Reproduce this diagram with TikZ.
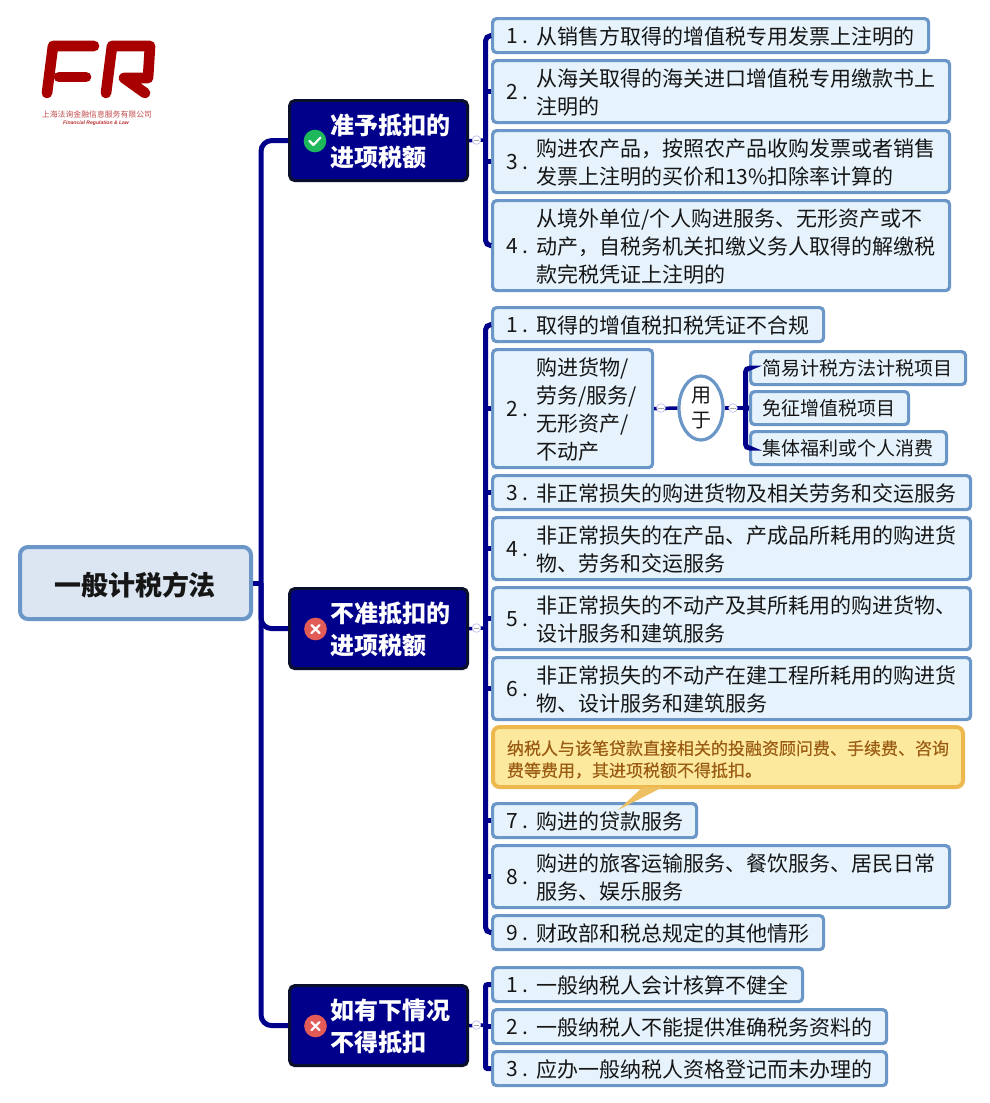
\documentclass[tikz,border=0pt]{standalone}
\usepackage{fontspec}
\setmainfont{Noto Sans CJK SC}
\newfontfamily\latinlogo{Liberation Sans}
\newfontfamily\notefont[FakeBold=0.35]{Noto Sans CJK SC}
\usetikzlibrary{shapes.geometric}
\definecolor{navy}{HTML}{00008B}
\definecolor{navyedge}{HTML}{0A0F2E}
\definecolor{leafedge}{HTML}{6A96C8}
\definecolor{leaffill}{HTML}{E6F3FC}
\definecolor{rootfill}{HTML}{DCE6F2}
\definecolor{notefill}{HTML}{FCE99E}
\definecolor{noteedge}{HTML}{EDB94F}
\definecolor{notetext}{HTML}{9A5B12}
\definecolor{logored}{HTML}{A80000}
\definecolor{okgreen}{HTML}{1DB85C}
\definecolor{nored}{HTML}{E25B57}
\definecolor{inktext}{HTML}{161616}
\tikzset{
  leafbox/.style={draw=leafedge,fill=leaffill,line width=2.4pt,rounded corners=3pt,inner sep=0pt,anchor=north west,text=inktext,
    font=\fontsize{15.75pt}{21pt}\selectfont},
  subbox/.style={leafbox,font=\fontsize{14.25pt}{21pt}\selectfont},
  mainbox/.style={draw=navyedge,fill=navy,line width=2.4pt,rounded corners=4pt,inner sep=0pt,anchor=north west,text=white,
    font=\fontsize{18pt}{24pt}\selectfont\bfseries},
  rootbox/.style={draw=leafedge,fill=rootfill,line width=3pt,rounded corners=6pt,inner sep=0pt,anchor=north west,text=inktext,
    font=\fontsize{20.25pt}{24pt}\selectfont\bfseries},
  notebox/.style={draw=noteedge,fill=notefill,line width=3pt,rounded corners=5pt,inner sep=0pt,anchor=north west,text=notetext,
    font=\notefont\fontsize{12.75pt}{16.5pt}\selectfont},
  oval/.style={ellipse,draw=leafedge,fill=white,line width=2.4pt,inner sep=0pt,minimum width=33pt,minimum height=48pt,text=inktext,
    align=center,font=\fontsize{15pt}{18.75pt}\selectfont},
  conn/.style={draw=navy,line width=3.75pt},
  stub/.style={draw=navy,line width=2.6pt},
  collapser/.style={circle,draw=black!25!blue!25,fill=white,line width=.5pt,minimum size=6.5pt,inner sep=0pt,
    path picture={\draw[black!35,line width=.5pt] ([xshift=1.2pt]path picture bounding box.west) -- ([xshift=-1.2pt]path picture bounding box.east);}},
  icon/.style={circle,minimum size=17pt,inner sep=0pt},
  okicon/.style={icon,fill=okgreen},
  noicon/.style={icon,fill=nored},
  glyph/.style={draw=white,line width=1.6pt,line cap=round,line join=round},
  logostroke/.style={draw=logored,line width=8pt,line cap=round,line join=round},
}
\newcommand\txtlines[2]{\raisebox{-#1pt}[0pt][0pt]{\begin{tabular}[c]{@{}l@{}}#2\end{tabular}}}
% name, style, x1,y1,x2,y2 (outer edges in px), half line width, left offset in px, content
\newcommand\pxbox[9]{%
  \pgfmathsetlengthmacro\boxw{(#5-#3-2*#7)*0.75pt}%
  \pgfmathsetlengthmacro\boxh{(#6-#4-2*#7)*0.75pt}%
  \pgfmathsetlengthmacro\boxo{(#8-#7)*0.75pt}%
  \node[#2,minimum width=\boxw,minimum height=\boxh] (#1) at (#3,#4)
    {\hbox to \boxw{\hspace*{\boxo}#9\hfil}};}
\newcommand\leaf[7]{\pxbox{#1}{leafbox}{#2}{#3}{#4}{#5}{1.5}{15}{\raisebox{-6.1pt}[0pt][0pt]{\makebox[22.5pt][l]{#6}}\txtlines{6.1}{#7}}}
\newcommand\subleaf[6]{\pxbox{#1}{subbox}{#2}{#3}{#4}{#5}{1.5}{13}{\txtlines{4.8}{#6}}}
\begin{document}
\begin{tikzpicture}[x=0.75pt,y=-0.75pt]
\useasboundingbox (0,0) rectangle (989,1103);
\fill[white] (0,0) rectangle (989,1103);

% logo
\draw[logostroke] (94,46) -- (53,46) -- (47,93);
\draw[logostroke] (59,77) -- (86,77);
\draw[logostroke] (106,93) -- (112,46) -- (150,46) -- (148,78) -- (124,78) -- (145,93);
\node[text=logored!70,font=\fontsize{5.9pt}{7pt}\selectfont,inner sep=0pt] (logotext) at (97,114) {上海法询金融信息服务有限公司};
\node[text=logored!80,font=\fontsize{3.8pt}{5pt}\selectfont\latinlogo\itshape\bfseries,inner sep=0pt] (logosub) at (96,123.5) {Financial Regulation \& Law};

% nodes
\pxbox{root}{rootbox}{18}{545}{253}{621}{2}{36}{\txtlines{9.4}{一般计税方法}}
\pxbox{mainA}{mainbox}{288}{99}{469}{182}{1.5}{42}{\txtlines{6.9}{准予抵扣的\\进项税额}}
\pxbox{mainB}{mainbox}{288}{587}{469}{670}{1.5}{42}{\txtlines{6.9}{不准抵扣的\\进项税额}}
\pxbox{mainC}{mainbox}{288}{984}{469}{1067}{1.5}{42}{\txtlines{6.9}{如有下情况\\不得抵扣}}

\leaf{aone}{491}{17}{930}{54}{1 .}{从销售方取得的增值税专用发票上注明的}
\leaf{atwo}{491}{59}{951}{124}{2 .}{从海关取得的海关进口增值税专用缴款书上\\注明的}
\leaf{athree}{491}{129}{951}{194}{3 .}{购进农产品，按照农产品收购发票或者销售\\发票上注明的买价和13\%扣除率计算的}
\leaf{afour}{491}{199}{951}{292}{4 .}{从境外单位/个人购进服务、无形资产或不\\动产，自税务机关扣缴义务人取得的解缴税\\款完税凭证上注明的}

\leaf{bone}{491}{306}{825}{343}{1 .}{取得的增值税扣税凭证不合规}
\leaf{btwo}{491}{348}{654}{469}{2 .}{购进货物/\\劳务/服务/\\无形资产/\\不动产}
\leaf{bthree}{491}{474}{972}{511}{3 .}{非正常损失的购进货物及相关劳务和交运服务}
\leaf{bfour}{491}{516}{972}{581}{4 .}{非正常损失的在产品、产成品所耗用的购进货\\物、劳务和交运服务}
\leaf{bfive}{491}{586}{972}{651}{5 .}{非正常损失的不动产及其所耗用的购进货物、\\设计服务和建筑服务}
\leaf{bsix}{491}{656}{972}{721}{6 .}{非正常损失的不动产在建工程所耗用的购进货\\物、设计服务和建筑服务}
\leaf{bseven}{491}{802}{698}{839}{7 .}{购进的贷款服务}
\leaf{beight}{491}{844}{951}{909}{8 .}{购进的旅客运输服务、餐饮服务、居民日常\\服务、娱乐服务}
\leaf{bnine}{491}{914}{825}{951}{9 .}{财政部和税总规定的其他情形}

\leaf{cone}{491}{966}{804}{1003}{1 .}{一般纳税人会计核算不健全}
\leaf{ctwo}{491}{1008}{888}{1045}{2 .}{一般纳税人不能提供准确税务资料的}
\leaf{cthree}{491}{1050}{888}{1087}{3 .}{应办一般纳税人资格登记而未办理的}

\node[oval] (yong) at (701,408) {用\\于};
\subleaf{sone}{749}{350}{967}{386}{简易计税方法计税项目}
\subleaf{stwo}{749}{390}{910}{426}{免征增值税项目}
\subleaf{sthree}{749}{430}{948}{466}{集体福利或个人消费}

% note and its tail
\pxbox{note}{notebox}{491}{725}{965}{789}{2}{16}{\txtlines{6.25}{纳税人与该笔贷款直接相关的投融资顾问费、手续费、咨询\\费等费用，其进项税额不得抵扣。}}
\fill[noteedge!90!white] (643,787) -- (663,787) -- (618,810) -- cycle;

% spine junctions
\coordinate (hub) at (261,583);
\coordinate (hubA) at (485.5,140);
\coordinate (hubB) at (485.5,628);
\coordinate (hubC) at (485.5,1025);
\coordinate (hubS) at (745.5,408);

% root connectors
\draw[conn] (root.east) -- (hub);
\draw[conn,rounded corners=8pt] (mainA.west) -| (hub);
\draw[conn,rounded corners=8pt] (mainC.west) -| (hub);
\draw[conn,rounded corners=8pt] (mainB.west) -| (hub);

% branch A
\draw[conn,rounded corners=4pt] (aone.west) -| (hubA);
\draw[conn,rounded corners=4pt] (afour.west) -| (hubA);
\draw[conn] (atwo.west) -- (atwo.west -| hubA);
\draw[conn] (athree.west) -- (athree.west -| hubA);
\draw[stub] (mainA.east) -- (hubA);
\node[collapser] (colA) at (476.5,140) {};

% branch B
\draw[conn,rounded corners=4pt] (bone.west) -| (hubB);
\draw[conn,rounded corners=4pt] (bnine.west) -| (hubB);
\foreach \n in {btwo,bthree,bfour,bfive,bsix,bseven,beight}
  \draw[conn] (\n.west) -- (\n.west -| hubB);
\draw[stub] (mainB.east) -- (hubB);
\node[collapser] (colB) at (476.5,628) {};

% branch C
\draw[conn,rounded corners=1.5pt] (cone.west) -| (hubC);
\draw[conn,rounded corners=1.5pt] (cthree.west) -| (hubC);
\draw[conn] (ctwo.west) -- (ctwo.west -| hubC);
\draw[stub] (mainC.east) -- (hubC);
\node[collapser] (colC) at (476.5,1025) {};

% sub branch
\draw[stub] (btwo.east) -- (yong.west);
\node[collapser] (colY) at (661,408) {};
\draw[stub] (yong.east) -- (hubS);
\node[collapser] (colS) at (733,408) {};
\draw[conn,rounded corners=3pt] (sone.west) -| (hubS);
\draw[conn,rounded corners=3pt] (sthree.west) -| (hubS);
\draw[conn] (stwo.west) -- (hubS);

% icons
\node[okicon] (iconA) at (315,141) {};
\draw[glyph] (309.5,141) -- (313.5,145) -- (320.5,137.5);
\node[noicon] (iconB) at (315.5,629) {};
\draw[glyph] (311.5,625) -- (319.5,633) (319.5,625) -- (311.5,633);
\node[noicon] (iconC) at (315.5,1026) {};
\draw[glyph] (311.5,1022) -- (319.5,1030) (319.5,1022) -- (311.5,1030);
\end{tikzpicture}
\end{document}
